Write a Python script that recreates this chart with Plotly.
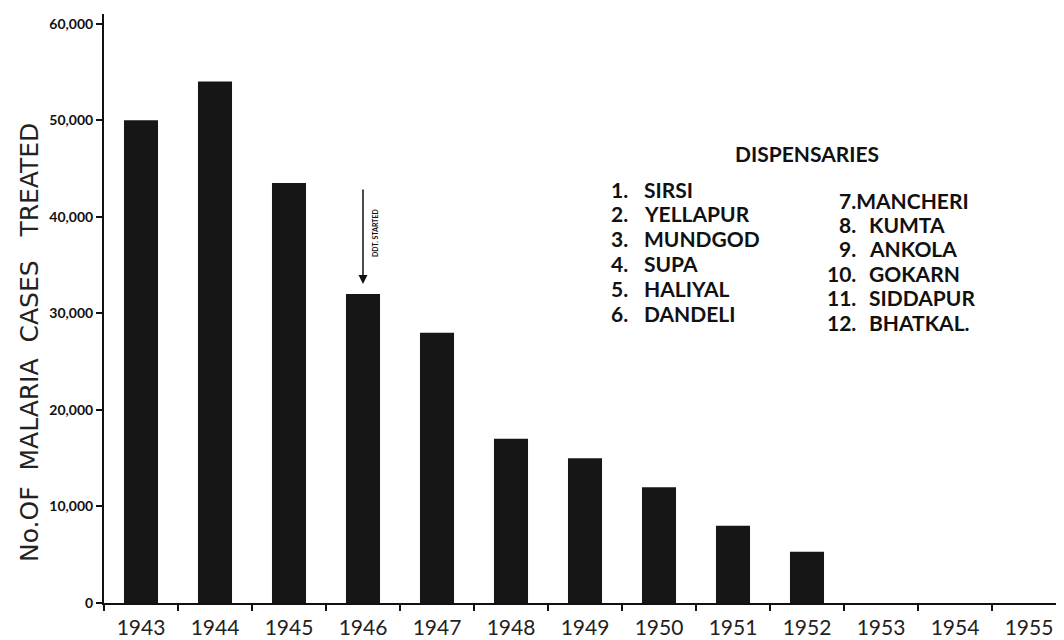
import plotly.graph_objects as go

# data
years = ["1943", "1944", "1945", "1946", "1947", "1948", "1949",
         "1950", "1951", "1952", "1953", "1954", "1955"]
cases = [50000, 54000, 43500, 32000, 28000, 17000, 15000,
         12000, 8000, 5300, 0, 0, 0]
y_ticks = [0, 10000, 20000, 30000, 40000, 50000, 60000]
y_tick_text = ["0", "10,000", "20,000", "30,000", "40,000", "50,000", "60,000"]

left_nums = ["1.", "2.", "3.", "4.", "5.", "6."]
left_names = ["SIRSI", "YELLAPUR", "MUNDGOD", "SUPA", "HALIYAL", "DANDELI"]
right_nums = ["7.", "8.", "9.", "10.", "11.", "12."]
right_names = ["MANCHERI", "KUMTA", "ANKOLA", "GOKARN", "SIDDAPUR", "BHATKAL."]

W, H = 1064, 640
OFF = 8  # page body margin
L, R, T, B = 96, 6, 6, 45
FONT = "Lato"
INK = "#161616"


def px(x):
    return (x - OFF - L) / (W - L - R)


def py(y):
    return (H - B - (y - OFF)) / (H - B - T)


fig = go.Figure(go.Bar(
    x=years, y=cases,
    marker=dict(color=INK, line=dict(width=0)),
))

ann = []
# legend block
ann.append(dict(x=px(807), y=py(153), text="<b>DISPENSARIES</b>",
                xanchor="center", font=dict(size=21, color="#111")))
for i in range(6):
    yy = 189 + i * 24.8
    ann.append(dict(x=px(630), y=py(yy), text="<b>" + left_nums[i] + "</b>",
                    xanchor="right", font=dict(size=21, color="#111")))
    ann.append(dict(x=px(642), y=py(yy), text="<b>" + left_names[i] + "</b>",
                    xanchor="left", font=dict(size=21, color="#111")))
for i in range(6):
    yy = 200 + i * 24.4
    if i == 0:
        ann.append(dict(x=px(837), y=py(yy),
                        text="<b>" + right_nums[i] + right_names[i] + "</b>",
                        xanchor="left", font=dict(size=21, color="#111")))
        continue
    ann.append(dict(x=px(858), y=py(yy), text="<b>" + right_nums[i] + "</b>",
                    xanchor="right", font=dict(size=21, color="#111")))
    ann.append(dict(x=px(867), y=py(yy), text="<b>" + right_names[i] + "</b>",
                    xanchor="left", font=dict(size=21, color="#111")))

# y axis title
ann.append(dict(x=px(29), y=py(343), text="No.OF  MALARIA  CASES   TREATED",
                xanchor="center", textangle=-90,
                font=dict(size=25, color="#222", family="DejaVu Sans")))

# DDT arrow over 1946
ann.append(dict(x=px(363), y=py(284), ax=0, ay=-96,
                text="", showarrow=True,
                arrowhead=2, arrowsize=1.2, arrowwidth=1.5, arrowcolor="#111",
                font=dict(size=7)))
ann.append(dict(x=px(375), y=py(233), text="<b>DDT. STARTED</b>",
                xanchor="center", textangle=-90, font=dict(size=7, color="#111")))

for a in ann:
    a.setdefault("xref", "paper")
    a.setdefault("yref", "paper")
    a.setdefault("yanchor", "middle")
    a.setdefault("showarrow", False)
    a["font"].setdefault("family", FONT)

fig.update_layout(
    width=W, height=H,
    margin=dict(l=L, r=R, t=T, b=B),
    paper_bgcolor="white", plot_bgcolor="white",
    bargap=0.54, showlegend=False,
    annotations=ann,
    font=dict(family=FONT, color="#222"),
)
fig.update_xaxes(
    type="category", range=[-0.5, 12.5],
    showline=True, linecolor="#111", linewidth=2,
    ticks="outside", tickson="boundaries", ticklen=6, tickwidth=2, tickcolor="#111",
    ticklabelstandoff=5,
    tickfont=dict(size=21, family=FONT, color="#222"),
    showgrid=False, zeroline=False,
)
fig.update_yaxes(
    range=[0, 61000], tickvals=y_ticks, ticktext=y_tick_text,
    showline=True, linecolor="#111", linewidth=2,
    ticks="outside", ticklen=6, tickwidth=2, tickcolor="#111",
    tickfont=dict(size=14, family=FONT, color="#111", weight="bold"),
    showgrid=False, zeroline=False,
)

fig.write_html("out.html")
